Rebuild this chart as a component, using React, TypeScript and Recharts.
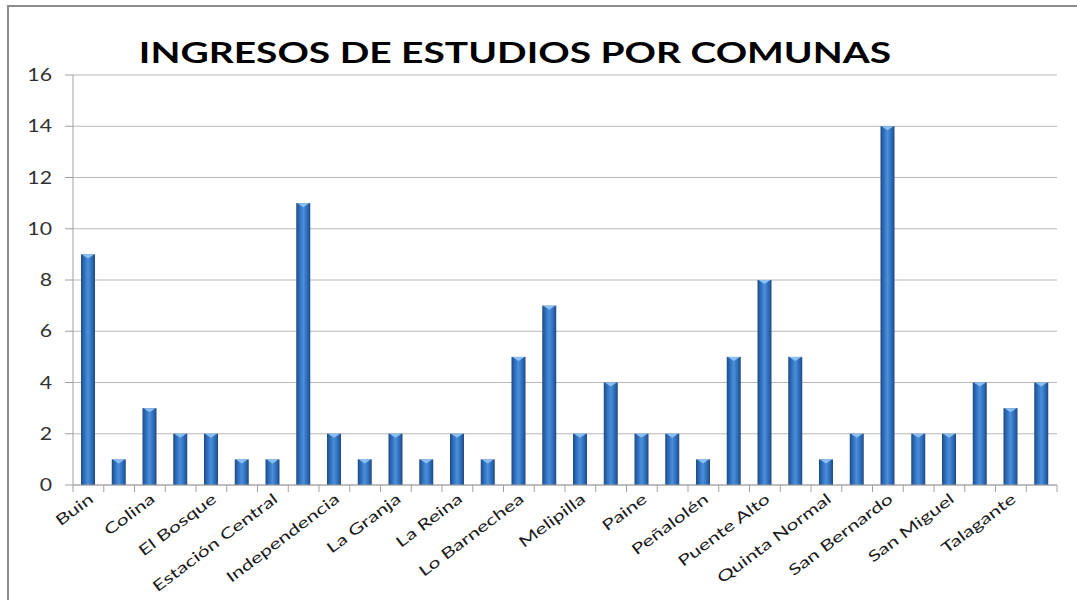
import React from "react";
import { BarChart, Bar, XAxis, YAxis, CartesianGrid } from "recharts";

const comunas = [
  "Buin", "Calera de Tango", "Colina", "Conchalí", "El Bosque", "El Monte",
  "Estación Central", "Huechuraba", "Independencia", "La Florida", "La Granja",
  "La Pintana", "La Reina", "Lampa", "Lo Barnechea", "Maipú", "Melipilla",
  "Ñuñoa", "Paine", "Pedro Aguirre Cerda", "Peñalolén", "Providencia",
  "Puente Alto", "Quilicura", "Quinta Normal", "Recoleta", "San Bernardo",
  "San Joaquín", "San Miguel", "Santiago", "Talagante", "Vitacura",
];
const ingresos = [
  9, 1, 3, 2, 2, 1, 1, 11, 2, 1, 2, 1, 2, 1, 5, 7,
  2, 4, 2, 2, 1, 5, 8, 5, 1, 2, 14, 2, 2, 4, 3, 4,
];
const yTicks = [0, 2, 4, 6, 8, 10, 12, 14, 16];

const data = comunas.map((comuna, i) => ({ comuna, ingresos: ingresos[i] }));

const W = 1077;
const H = 600;
const margin = { top: 75, right: 20, bottom: 85, left: 0 };
const yAxisWidth = 73;
const band = (W - margin.left - margin.right - yAxisWidth) / data.length;
const axisGray = "#a0a0a0";

const XTick = (props: any) => {
  const { x, y, payload } = props;
  const i = payload.index;
  const left = x - band / 2;
  return (
    <g>
      <line x1={left} x2={left} y1={y} y2={y + 7} stroke={axisGray} />
      {i === data.length - 1 && (
        <line x1={x + band / 2} x2={x + band / 2} y1={y} y2={y + 7} stroke={axisGray} />
      )}
      {i % 2 === 0 && (
        <text
          transform={`translate(${x + 6},${y + 16}) rotate(-37) scale(1.42,1)`}
          textAnchor="end"
          fontSize={15}
          fontFamily="Lato, sans-serif"
          fill="#1a1a1a"
        >
          {payload.value}
        </text>
      )}
    </g>
  );
};

const YTick = (props: any) => {
  const { x, y, payload } = props;
  return (
    <text
      transform={`translate(${x - 11},${y + 6}) scale(1.25,1)`}
      textAnchor="end"
      fontSize={17}
      fontFamily="Lato, sans-serif"
      fill="#303030"
    >
      {payload.value}
    </text>
  );
};

const Cylinder = (props: any) => {
  const { x, y, width, height } = props;
  if (!height) return null;
  return (
    <g>
      <rect x={x} y={y} width={width} height={height} fill="url(#barGrad)" />
      <polygon
        points={`${x + 1},${y} ${x + width - 1},${y} ${x + width / 2},${y + 4}`}
        fill="#8cc0f2"
      />
    </g>
  );
};

export default function App() {
  return (
    <div style={{ position: "absolute", left: 0, top: 0, width: W, height: H, background: "#fff" }}>
      <div
        style={{
          position: "absolute",
          left: 7,
          top: 5,
          right: 0,
          bottom: 0,
          borderLeft: "2px solid #8c8c8c",
          borderTop: "2px solid #8c8c8c",
        }}
      />
      <div
        style={{
          position: "absolute",
          left: 0,
          width: 1030,
          top: 35,
          textAlign: "center",
          fontFamily: "Lato, sans-serif",
          fontWeight: 700,
          fontSize: 28,
          lineHeight: "34px",
          color: "#000",
          transform: "scaleX(1.39)",
          transformOrigin: "515px 0",
          whiteSpace: "nowrap",
        }}
      >
        INGRESOS DE ESTUDIOS POR COMUNAS
      </div>
      <BarChart width={W} height={H} data={data} margin={margin} barSize={14}>
        <defs>
          <linearGradient id="barGrad" x1="0" y1="0" x2="1" y2="0">
            <stop offset="0%" stopColor="#1d4a85" />
            <stop offset="25%" stopColor="#3070bc" />
            <stop offset="50%" stopColor="#4a8fdc" />
            <stop offset="75%" stopColor="#3070bc" />
            <stop offset="100%" stopColor="#1d4a85" />
          </linearGradient>
        </defs>
        <CartesianGrid vertical={false} stroke="#b8b8b8" />
        <XAxis
          dataKey="comuna"
          interval={0}
          height={30}
          tickLine={false}
          tickSize={0}
          tickMargin={0}
          tick={<XTick />}
          axisLine={{ stroke: axisGray }}
        />
        <YAxis
          width={yAxisWidth}
          domain={[0, 16]}
          ticks={yTicks}
          tickSize={8}
          tickMargin={2}
          tickLine={{ stroke: axisGray }}
          axisLine={{ stroke: axisGray }}
          tick={<YTick />}
        />
        <Bar dataKey="ingresos" shape={<Cylinder />} isAnimationActive={false} />
      </BarChart>
    </div>
  );
}
